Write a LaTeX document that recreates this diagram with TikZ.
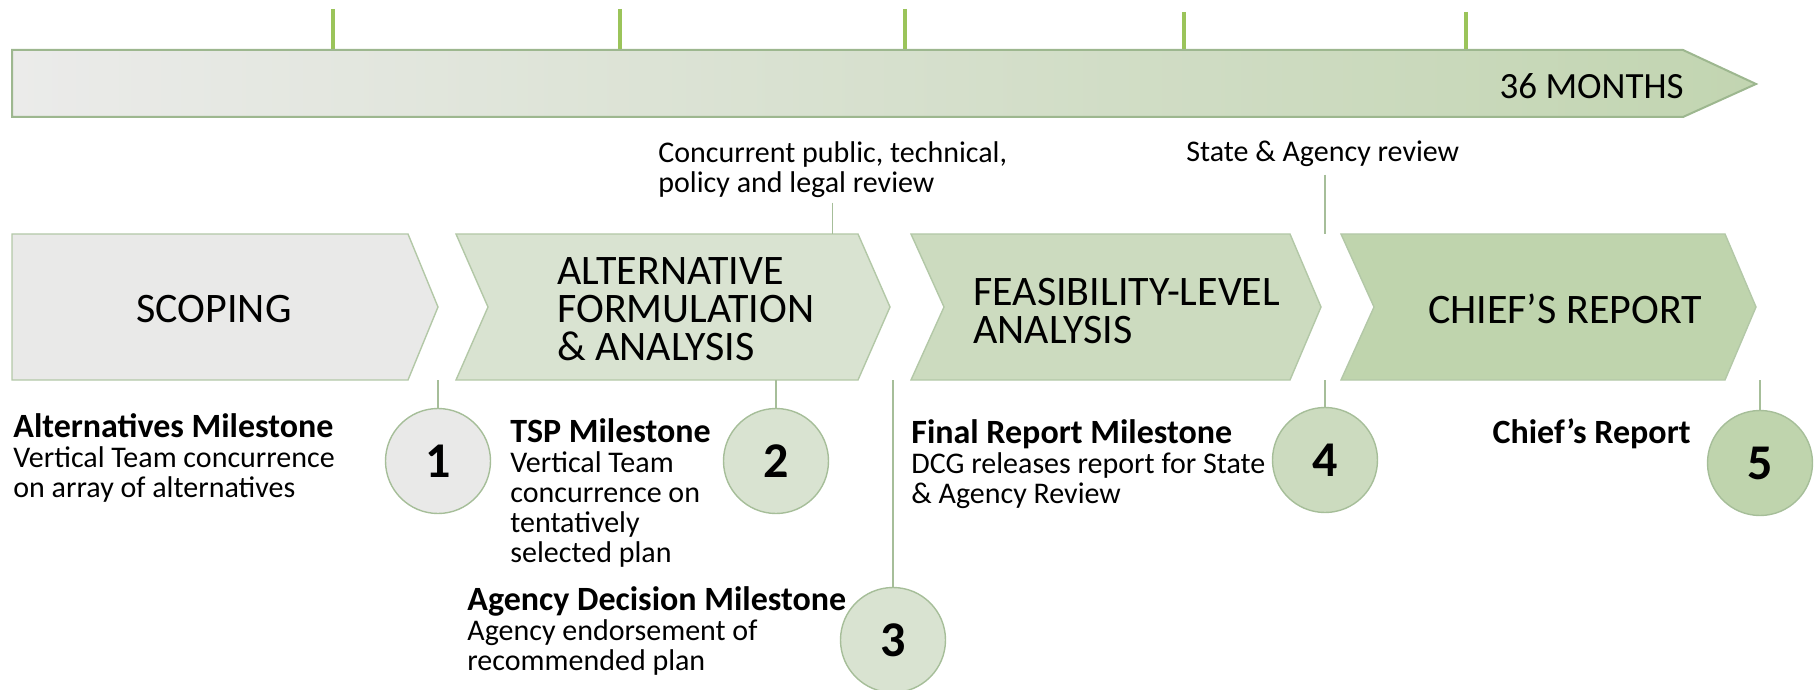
\documentclass[tikz,border=0pt]{standalone}
\usepackage{fontspec}
\setmainfont{Carlito}
\usetikzlibrary{positioning}

\definecolor{barleft}{HTML}{EBEBEA}
\definecolor{barright}{HTML}{C2D5B1}
\definecolor{barline}{HTML}{9DB78F}
\definecolor{tickgreen}{HTML}{9BC45A}
\definecolor{chevline}{HTML}{B3C8A7}
\definecolor{scopfill}{HTML}{E9E9E8}
\definecolor{altfill}{HTML}{D9E3D1}
\definecolor{feasfill}{HTML}{CCDBBF}
\definecolor{chieffill}{HTML}{BFD4AD}
\definecolor{mileline}{HTML}{A6BE99}

\newcommand\mstitle[1]{{\fontsize{17}{15}\selectfont\bfseries #1}}

\begin{document}
\begin{tikzpicture}[x=0.5pt, y=-0.5pt,
  chev/.style={draw=chevline, line width=0.7pt},
  mile/.style={circle, draw=mileline, line width=0.7pt, minimum size=52.5pt,
    inner sep=0pt, font=\fontsize{25}{25}\selectfont\bfseries},
  link/.style={draw=mileline, line width=0.7pt},
  monthtick/.style={draw=tickgreen, line width=1.8pt},
  phase/.style={font=\fontsize{21}{19}\selectfont, align=left, inner sep=0pt},
  note/.style={font=\fontsize{15}{15}\selectfont, align=left, inner sep=0pt}]
  \useasboundingbox (0,0) rectangle (1817,690);

  \foreach \x/\y in {333/9, 620/9, 905/9, 1184/12, 1466/12}
    \draw[monthtick] (\x,\y) -- (\x,50);
  \shadedraw[left color=barleft, right color=barright, draw=barline, line width=1pt]
    (12,50) -- (1683,50) -- (1756,84) -- (1683,117) -- (12,117) -- cycle;
  \node[anchor=east, inner sep=0pt, font=\fontsize{18.5}{18.5}\selectfont] (months) at (1684,86) {36 MONTHS};

  \filldraw[chev, fill=scopfill] (12,234) -- (408,234) -- (438,307) -- (408,380) -- (12,380) -- cycle;
  \filldraw[chev, fill=altfill] (456,234) -- (858,234) -- (890,307) -- (858,380) -- (456,380) -- (488,307) -- cycle;
  \filldraw[chev, fill=feasfill] (911,234) -- (1290,234) -- (1321,307) -- (1290,380) -- (911,380) -- (944,307) -- cycle;
  \filldraw[chev, fill=chieffill] (1341,234) -- (1725,234) -- (1756,307) -- (1725,380) -- (1341,380) -- (1374,307) -- cycle;
  \coordinate (chevtop) at (0,234);
  \coordinate (chevbot) at (0,380);

  \node[phase] (scoping) at (214,309) {SCOPING};
  \node[phase, anchor=west] (altform) at (557,309) {ALTERNATIVE\\FORMULATION\\\& ANALYSIS};
  \node[phase, anchor=west] (feas) at (973,311) {FEASIBILITY-LEVEL\\ANALYSIS};
  \node[phase] (chief) at (1565,309) {CHIEF’S REPORT};

  \node[mile, fill=scopfill] (m1) at (438,461) {1};
  \node[mile, fill=altfill] (m2) at (776,461) {2};
  \node[mile, fill=altfill] (m3) at (893,640) {3};
  \node[mile, fill=feasfill] (m4) at (1325,460) {4};
  \node[mile, fill=chieffill] (m5) at (1760,463) {5};

  \node[note, anchor=base west] (conc) at (658,192) {Concurrent public, technical,\\policy and legal review};
  \node[note, anchor=base west] (state) at (1186,162) {State \& Agency review};

  \node[note, anchor=base west] (n1) at (13,497) {\mstitle{Alternatives Milestone}\\Vertical Team concurrence\\on array of alternatives};
  \node[note, anchor=base west] (n2) at (510,562) {\mstitle{TSP Milestone}\\Vertical Team\\concurrence on\\tentatively\\selected plan};
  \node[note, anchor=base west] (n3) at (467,670) {\mstitle{Agency Decision Milestone}\\Agency endorsement of\\recommended plan};
  \node[note, anchor=base west] (n4) at (911,503) {\mstitle{Final Report Milestone}\\DCG releases report for State\\\& Agency Review};
  \node[note, anchor=base east] (n5) at (1691,443) {\mstitle{Chief’s Report}};

  \path (m1) edge[link] (m1 |- chevbot)
        (m2) edge[link] (m2 |- chevbot)
        (m3) edge[link] (m3 |- chevbot)
        (m4) edge[link] (m4 |- chevbot)
        (m5) edge[link] (m5 |- chevbot)
        (conc) edge[link, shorten <=2.5pt] (conc |- chevtop)
        (state.south -| m4) edge[link, shorten <=3.5pt] (m4 |- chevtop);
\end{tikzpicture}
\end{document}
